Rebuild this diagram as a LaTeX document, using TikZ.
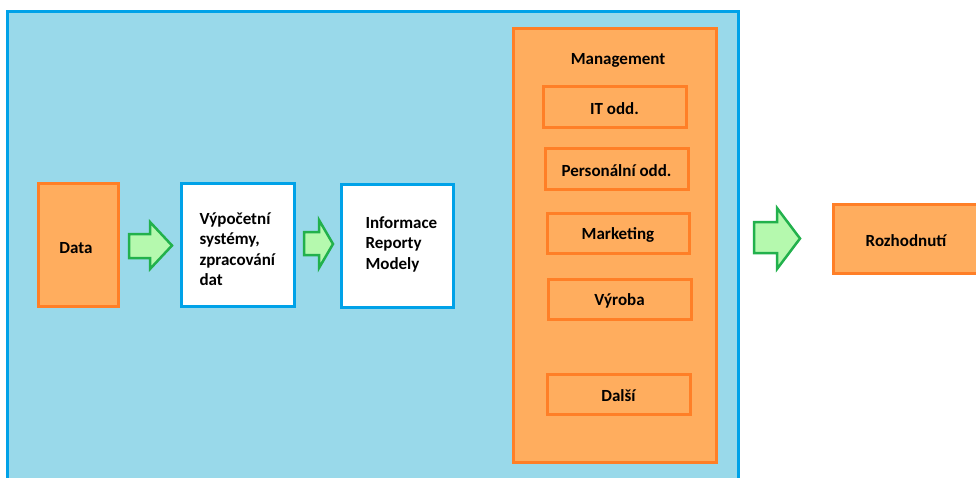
\documentclass[tikz,border=0pt]{standalone}
\usepackage{fontspec}
\setmainfont{Carlito}
\begin{document}
\begin{tikzpicture}[x=1pt,y=-1pt,
  lbl/.style={font=\fontsize{17}{20.5}\selectfont\bfseries, text=black, yshift=-2pt},
  obox/.style={draw=orangeB, fill=orangeF, line width=3pt},
  wbox/.style={draw=blueB, fill=white, line width=3pt},
  garrow/.style={draw=greenB, fill=greenF, line width=2.5pt, line join=miter}]
\definecolor{orangeB}{HTML}{FF7F27}
\definecolor{orangeF}{HTML}{FFAD5E}
\definecolor{blueB}{HTML}{00A2E8}
\definecolor{blueF}{HTML}{99D9EA}
\definecolor{greenB}{HTML}{22B14C}
\definecolor{greenF}{HTML}{B5F9AE}
\useasboundingbox (0,0) rectangle (976,477);
% outer area
\draw[draw=blueB, fill=blueF, line width=3pt] (7,11) rectangle (738,484);
% management
\draw[obox] (513,28) rectangle (716,462);
\node[lbl] (mgmt) at (618,58) {Management};
\draw[obox] (543,86) rectangle (686,127);
\node[lbl] (it) at (614.5,106.5) {IT odd.};
\draw[obox] (545,148) rectangle (688,189);
\node[lbl] (pers) at (616.5,168.5) {Personální odd.};
\draw[obox] (547,213) rectangle (689,253);
\node[lbl] (mark) at (618,233) {Marketing};
\draw[obox] (548,279) rectangle (691,319);
\node[lbl] (vyr) at (619.5,299) {Výroba};
\draw[obox] (547,374) rectangle (690,414);
\node[lbl] (dal) at (618.5,394) {Další};
% data
\draw[obox] (38,183) rectangle (118,306);
\node[lbl] (data) at (76,246) {Data};
\draw[wbox] (181,183) rectangle (294,306);
\node[lbl, align=left, anchor=west] (vyp) at (196,247) {Výpočetní\\systémy,\\zpracování\\dat};
\draw[wbox] (341,184) rectangle (453,307);
\node[lbl, align=left, anchor=west] (inf) at (362,242) {Informace\\Reporty\\Modely};
\draw[obox] (833,204) rectangle (985,273);
\node[lbl] (roz) at (906,238.5) {Rozhodnutí};
% arrows
\draw[garrow] (129,234) -- (150,234) -- (150,222) -- (172,245.5) -- (150,269) -- (150,258) -- (129,258) -- cycle;
\draw[garrow] (304,232) -- (319,232) -- (319,220) -- (333,244) -- (319,268) -- (319,255) -- (304,255) -- cycle;
\draw[garrow] (754,222) -- (777,222) -- (777,208) -- (800,238.5) -- (777,269) -- (777,253) -- (754,253) -- cycle;
\end{tikzpicture}
\end{document}
